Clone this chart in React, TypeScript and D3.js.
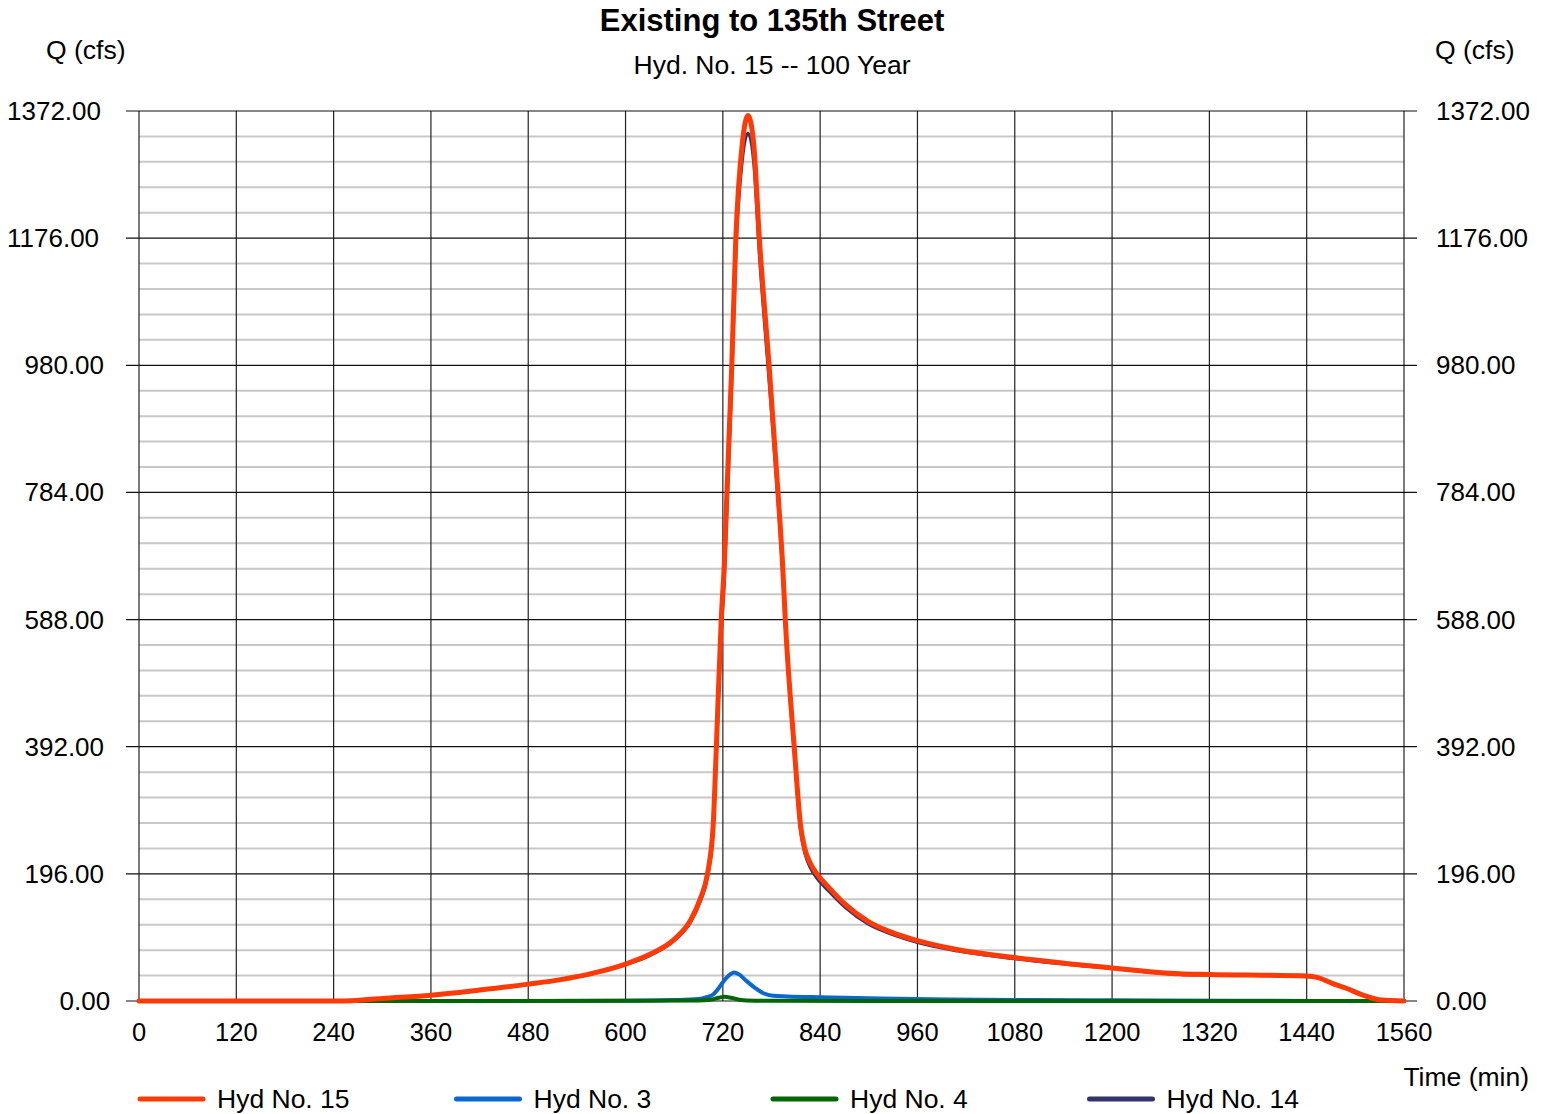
import React from "react";
import * as d3 from "d3";

const title = "Existing to 135th Street";
const subtitle = "Hyd. No. 15 -- 100 Year";

const xTicks = [0, 120, 240, 360, 480, 600, 720, 840, 960, 1080, 1200, 1320, 1440, 1560];
const yTicks = [0, 196, 392, 588, 784, 980, 1176, 1372];
const yMinorStep = 39.2;

// Hyd No. 15 (time min, Q cfs)
const hyd15: [number, number][] = [
  [0, 0], [240, 0], [262, 0.5], [300, 4], [360, 9], [420, 17], [480, 26], [520, 33], [560, 43],
  [600, 57], [630, 72], [660, 95], [680, 124], [692, 157], [701, 196], [708, 269], [712, 392],
  [718, 588], [722, 680], [725, 784], [731, 980], [736, 1176], [744, 1322], [751, 1365],
  [758, 1322], [765, 1176], [777, 980], [788, 784], [794, 665], [797, 588], [808, 392],
  [816, 269], [821, 235], [828, 212], [836, 196], [850, 176], [870, 150], [900, 122],
  [930, 105], [960, 93], [1010, 79], [1080, 67], [1200, 51], [1283, 42], [1320, 41],
  [1440, 38.5], [1454, 36], [1470, 28], [1488, 20], [1512, 8], [1532, 1.5], [1560, 0],
];

// Hyd No. 3
const hyd3: [number, number][] = [
  [0, 0], [480, 0], [600, 0.5], [660, 1.5], [690, 3], [700, 6], [708, 10], [715, 20], [720, 29],
  [727, 39], [734, 44], [740, 41], [749, 31], [760, 20], [770, 12], [782, 8], [800, 7],
  [840, 5.7], [914, 3.7], [1000, 2.5], [1100, 1.5], [1200, 1], [1350, 0.5], [1500, 0], [1560, 0],
];

// Hyd No. 4
const hyd4: [number, number][] = [
  [0, 0], [300, 0], [600, 0.3], [690, 0.8], [705, 2], [715, 5], [722, 6.5], [730, 5],
  [740, 2], [750, 0.8], [780, 0.3], [900, 0], [1560, 0],
];

// Hyd No. 14
const hyd14: [number, number][] = [
  [0, 0], [240, 0], [262, 0.5], [300, 4], [360, 9], [420, 17], [480, 26], [520, 33], [560, 42],
  [600, 56], [630, 70], [660, 93], [680, 121], [692, 153], [701, 190], [708, 260], [712, 378],
  [718, 565], [722, 650], [725, 752], [731, 950], [736, 1150], [744, 1295], [751, 1338],
  [758, 1292], [765, 1150], [777, 955], [788, 770], [794, 652], [797, 578], [808, 382],
  [816, 260], [821, 228], [828, 205], [836, 189], [850, 170], [870, 145], [900, 118],
  [930, 102], [960, 90], [1010, 77], [1080, 65], [1200, 50], [1283, 41], [1320, 40],
  [1440, 38], [1454, 35.5], [1470, 27.5], [1488, 19.5], [1512, 7.8], [1532, 1.5], [1560, 0],
];

const legendNames = ["Hyd No. 15", "Hyd No. 3", "Hyd No. 4", "Hyd No. 14"];
const colors = ["#ff3a06", "#0a68d0", "#056605", "#33336b"];

export default function App() {
  const W = 1550, H = 1114;
  const x = d3.scaleLinear().domain([0, 1560]).range([139, 1404]);
  const y = d3.scaleLinear().domain([0, 1372]).range([1001, 111]);
  const line = d3.line<[number, number]>().x(d => x(d[0])).y(d => y(d[1])).curve(d3.curveMonotoneX);

  const minor: number[] = [];
  for (let i = 1; i * yMinorStep < 1372 - 1; i++) {
    const v = i * yMinorStep;
    if (i % 5 !== 0) minor.push(v);
  }

  const font = "'Liberation Sans', Arial, sans-serif";
  const series = [
    { d: hyd14, c: colors[3], w: 3 },
    { d: hyd3, c: colors[1], w: 4 },
    { d: hyd4, c: colors[2], w: 4 },
    { d: hyd15, c: colors[0], w: 5 },
  ];

  return (
    <svg width={W} height={H} style={{ position: "absolute", left: 0, top: 0, background: "#fff" }} fontFamily={font}>
      <rect x={0} y={0} width={W} height={H} fill="#fff" />
      <text x={772} y={31} textAnchor="middle" fontSize={31} fontWeight="bold">{title}</text>
      <text x={772} y={74} textAnchor="middle" fontSize={26.5}>{subtitle}</text>
      <text x={46} y={59} fontSize={26.5}>Q (cfs)</text>
      <text x={1435} y={59} fontSize={26.5}>Q (cfs)</text>

      {minor.map(v => (
        <line key={"m" + v} x1={139} x2={1404} y1={y(v)} y2={y(v)} stroke="#c8c8c8" strokeWidth={2} />
      ))}
      {xTicks.map(t => (
        <line key={"v" + t} x1={x(t)} x2={x(t)} y1={111} y2={1001} stroke="#222" strokeWidth={1.2} />
      ))}
      {yTicks.map(t => (
        <line key={"h" + t} x1={126} x2={1417} y1={y(t)} y2={y(t)} stroke="#111" strokeWidth={1.2} />
      ))}

      {series.map((s, i) => (
        <path key={i} d={line(s.d) || ""} fill="none" stroke={s.c} strokeWidth={s.w} strokeLinejoin="round" strokeLinecap="round" />
      ))}

      {yTicks.map(t => {
        const lbl = t.toFixed(2);
        return (
          <g key={"yl" + t}>
            <text x={7 + (7 - lbl.length) * 17.5} y={y(t) + 9} fontSize={26}>{lbl}</text>
            <text x={1436} y={y(t) + 9} fontSize={26}>{lbl}</text>
          </g>
        );
      })}
      {xTicks.map(t => (
        <text key={"xl" + t} x={x(t)} y={1041} textAnchor="middle" fontSize={25.5}>{t}</text>
      ))}
      <text x={1529} y={1086} textAnchor="end" fontSize={26.5}>Time (min)</text>

      {legendNames.map((n, i) => (
        <g key={n} transform={`translate(${140 + i * 316.5},1099)`}>
          <line x1={0} x2={63} y1={0} y2={0} stroke={colors[i]} strokeWidth={5} strokeLinecap="round" />
          <text x={77} y={9} fontSize={26.5}>{n}</text>
        </g>
      ))}
    </svg>
  );
}
